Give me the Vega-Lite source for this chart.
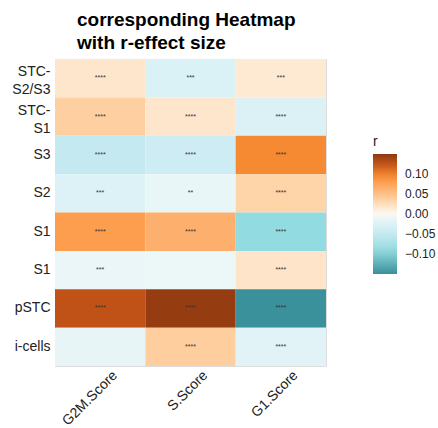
{
  "$schema": "https://vega.github.io/schema/vega-lite/v6.json",
  "autosize": {"type": "none"},
  "width": 271,
  "height": 307,
  "padding": {"left": 55, "top": 59, "right": 112, "bottom": 62},
  "background": "white",
  "title": {
    "text": ["corresponding Heatmap", "with r-effect size"],
    "anchor": "start",
    "frame": "group",
    "dx": 22,
    "offset": 6,
    "fontSize": 19,
    "fontWeight": "bold",
    "font": "Liberation Sans",
    "color": "#000000",
    "lineHeight": 23
  },
  "data": {
    "values": [
      {"cell": "STC-S2/S3", "score": "G2M.Score", "r": 0.018, "sig": "****"},
      {"cell": "STC-S2/S3", "score": "S.Score", "r": -0.027, "sig": "***"},
      {"cell": "STC-S2/S3", "score": "G1.Score", "r": 0.015, "sig": "***"},
      {"cell": "STC-S1", "score": "G2M.Score", "r": 0.037, "sig": "****"},
      {"cell": "STC-S1", "score": "S.Score", "r": 0.018, "sig": "****"},
      {"cell": "STC-S1", "score": "G1.Score", "r": -0.026, "sig": "****"},
      {"cell": "S3", "score": "G2M.Score", "r": -0.05, "sig": "****"},
      {"cell": "S3", "score": "S.Score", "r": -0.04, "sig": "****"},
      {"cell": "S3", "score": "G1.Score", "r": 0.095, "sig": "****"},
      {"cell": "S2", "score": "G2M.Score", "r": -0.025, "sig": "***"},
      {"cell": "S2", "score": "S.Score", "r": -0.014, "sig": "**"},
      {"cell": "S2", "score": "G1.Score", "r": 0.033, "sig": "****"},
      {"cell": "S1", "score": "G2M.Score", "r": 0.08, "sig": "****"},
      {"cell": "S1", "score": "S.Score", "r": 0.065, "sig": "****"},
      {"cell": "S1", "score": "G1.Score", "r": -0.09, "sig": "****"},
      {"cell": "S1 ", "score": "G2M.Score", "r": -0.012, "sig": "***"},
      {"cell": "S1 ", "score": "S.Score", "r": -0.01, "sig": ""},
      {"cell": "S1 ", "score": "G1.Score", "r": 0.02, "sig": "****"},
      {"cell": "pSTC", "score": "G2M.Score", "r": 0.125, "sig": "****"},
      {"cell": "pSTC", "score": "S.Score", "r": 0.145, "sig": "****"},
      {"cell": "pSTC", "score": "G1.Score", "r": -0.148, "sig": "****"},
      {"cell": "i-cells", "score": "G2M.Score", "r": -0.015, "sig": ""},
      {"cell": "i-cells", "score": "S.Score", "r": 0.038, "sig": "****"},
      {"cell": "i-cells", "score": "G1.Score", "r": -0.02, "sig": "****"}
    ]
  },
  "encoding": {
    "x": {
      "field": "score", "type": "nominal",
      "sort": ["G2M.Score", "S.Score", "G1.Score"],
      "scale": {"paddingInner": 0, "paddingOuter": 0},
      "axis": {
        "title": null, "domain": false, "ticks": false,
        "labelAngle": -45, "labelAlign": "right", "labelBaseline": "top",
        "labelOffset": 10, "labelPadding": 2,
        "labelFont": "Liberation Sans", "labelFontSize": 14, "labelColor": "#222222"
      }
    },
    "y": {
      "field": "cell", "type": "nominal",
      "sort": ["STC-S2/S3", "STC-S1", "S3", "S2", "S1", "S1 ", "pSTC", "i-cells"],
      "scale": {"paddingInner": 0, "paddingOuter": 0},
      "axis": {
        "title": null, "domain": false, "ticks": false,
        "labelPadding": 5,
        "labelFont": "Liberation Sans", "labelFontSize": 14, "labelColor": "#222222",
        "labelLineHeight": 18,
        "labelOffset": {"condition": {"test": "indexof(datum.value, 'STC-') == 0", "value": -6}, "value": 0},
        "labelExpr": "datum.value == 'STC-S2/S3' ? ['STC-', 'S2/S3'] : datum.value == 'STC-S1' ? ['STC-', 'S1'] : datum.value"
      }
    }
  },
  "layer": [
    {
      "mark": {"type": "rect"},
      "encoding": {
        "color": {
          "field": "r", "type": "quantitative",
          "scale": {
            "domain": [-0.149, -0.09, -0.05, -0.027, -0.01, 0, 0.018, 0.037, 0.065, 0.08, 0.095, 0.125, 0.149],
            "range": ["#38909a", "#92dbe0", "#c4e9f0", "#daf1f6", "#ecf7f8", "#fbf8f2", "#fee6cd", "#fecfa0", "#fdb06d", "#fd9d4e", "#f58a32", "#c05217", "#8e3810"],
            "interpolate": "rgb"
          },
          "legend": {
            "title": "r",
            "orient": "none",
            "legendX": 318,
            "legendY": 76,
            "values": [0.1, 0.05, 0, -0.05, -0.1],
            "format": ".2f",
            "gradientLength": 120,
            "gradientThickness": 24,
            "gradientStrokeWidth": 0,
            "titleFont": "Liberation Sans", "titleFontSize": 14, "titleFontWeight": "normal", "titleColor": "#222222",
            "titlePadding": 5,
            "labelFont": "Liberation Sans", "labelFontSize": 12, "labelColor": "#222222",
            "labelOffset": 8
          }
        }
      }
    },
    {
      "mark": {"type": "text", "fontSize": 7, "color": "#333333", "font": "Liberation Sans"},
      "encoding": {"text": {"field": "sig"}}
    }
  ]
}
